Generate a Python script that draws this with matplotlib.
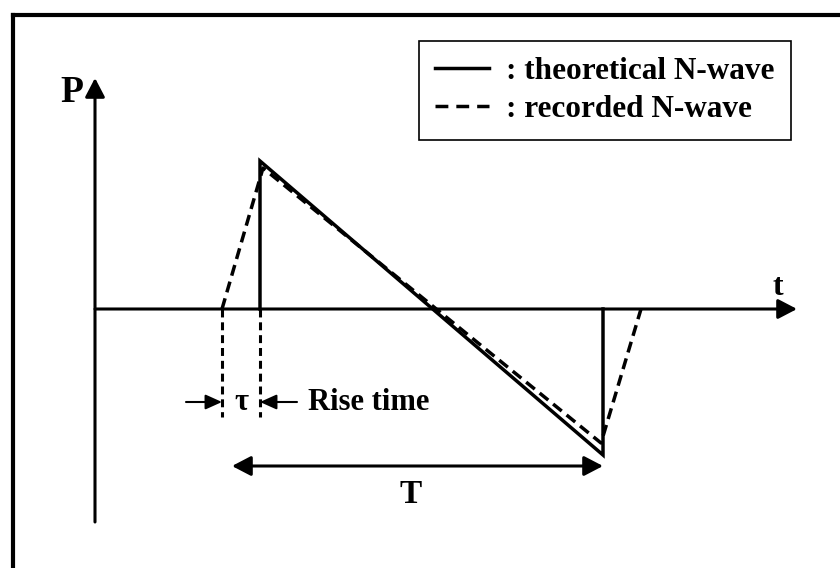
import numpy as np
import matplotlib
matplotlib.use('Agg')
import matplotlib.pyplot as plt
from matplotlib.patches import FancyArrowPatch
from matplotlib.lines import Line2D

# N-wave sketch, t and P in arbitrary units (t axis at P = 0)
t_theory = [1.65, 1.65, 5.08, 5.08]
p_theory = [0.0, 1.48, -1.46, 0.0]

t_record = [1.27, 1.68, 5.06, 5.46]
p_record = [0.0, 1.41, -1.34, 0.0]

t_marks = [1.27, 1.65]        # rise time markers
T_span = [1.37, 5.08]         # period arrow

labels = [': theoretical N-wave', ': recorded N-wave']

plt.rcParams['font.family'] = ['Liberation Serif', 'DejaVu Serif']
plt.rcParams['font.weight'] = 'bold'

fig = plt.figure(figsize=(8.4, 5.68), dpi=100)
ax = fig.add_axes([0, 0, 1, 1])
ax.set_xlim(-0.95, 7.45)
ax.set_ylim(-2.59, 3.09)
ax.axis('off')

def arrow(x0, y0, x1, y1, hl=1.15, hw=0.6, lw=2.2, style='-|>'):
    a = FancyArrowPatch((x0, y0), (x1, y1),
                        arrowstyle='%s,head_length=%g,head_width=%g' % (style, hl, hw),
                        mutation_scale=10, lw=lw, color='black',
                        shrinkA=0, shrinkB=0)
    ax.add_patch(a)

# axes
arrow(0, -2.13, 0, 2.31)
arrow(0, 0, 7.02, 0)
ax.text(-0.35, 2.07, 'P', fontsize=27, ha='left', va='baseline')
ax.text(6.83, 0.14, 't', fontsize=23, ha='center', va='baseline')

# waves
ax.plot(t_theory, p_theory, color='black', lw=2.5, solid_joinstyle='miter')
ax.plot(t_record, p_record, color='black', lw=2.5, dashes=(3.2, 1.8))

# rise time
for tm in t_marks:
    ax.plot([tm, tm], [0, -1.08], color='black', lw=2.2, dashes=(2.6, 1.6))
arrow(t_marks[0] - 0.36, -0.93, t_marks[0], -0.93, hl=1.0, hw=0.45, lw=1.5)
arrow(t_marks[1] + 0.37, -0.93, t_marks[1], -0.93, hl=1.0, hw=0.45, lw=1.5)
ax.text(1.46, -1.01, '\u03c4', fontsize=22, ha='center', va='baseline')
ax.text(2.13, -1.01, 'Rise time', fontsize=22, ha='left', va='baseline')

# period
arrow(T_span[0], -1.57, T_span[1], -1.57, style='<|-|>')
ax.text(3.16, -1.94, 'T', fontsize=24, ha='center', va='baseline')

# outer frame (left and top only visible)
ax.plot([-0.815, -0.815], [-2.59, 2.945], color='black', lw=3, solid_capstyle='projecting')
ax.plot([-0.815, 7.45], [2.945, 2.945], color='black', lw=3, solid_capstyle='projecting')

handles = [Line2D([], [], color='black', lw=2.5),
           Line2D([], [], color='black', lw=2.5, dashes=(3.7, 2.3))]
leg = ax.legend(handles, labels, loc='upper left',
                bbox_to_anchor=(419 / 840, 1 - 41 / 568),
                fontsize=22.5, frameon=True, fancybox=False, framealpha=1,
                edgecolor='black', handlelength=1.75, handletextpad=0.55,
                borderaxespad=0, borderpad=0.5, labelspacing=0.3)
leg.get_frame().set_linewidth(1.2)

fig.savefig('out.png', dpi=100)
